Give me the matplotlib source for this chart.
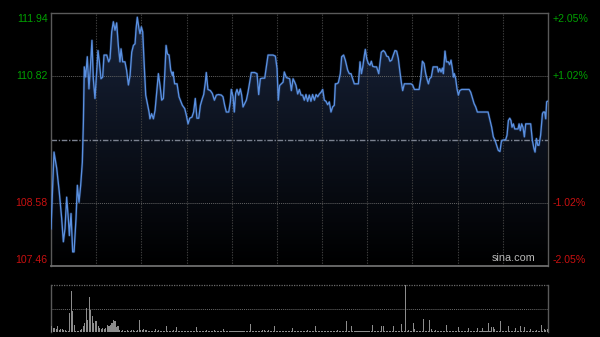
import numpy as np
import matplotlib
matplotlib.use("Agg")
import matplotlib.pyplot as plt
from matplotlib.path import Path
from matplotlib.patches import PathPatch
import matplotlib.transforms as mtransforms

# ---------------- data ----------------
minutes = [0, 2.0, 3.8, 5.5, 7.1, 8.2, 9.3, 10.4, 11.5, 12.2, 13.3, 14.4, 15.3, 16.6, 17.5, 18.6, 19.7,
           20.8, 21.5, 22.1, 23.0, 24.1, 25.2, 26.1, 27.2, 28.1, 29.2, 30.3, 31.2, 32.1, 33.2, 34.3,
           35.2, 37.0, 38.3, 39.2, 40.3, 41.4, 42.5, 43.6, 44.7, 45.8, 46.5, 47.6, 49.1, 50.2, 51.4,
           52.5, 53.6, 54.7, 55.8, 56.5, 57.3, 58.4, 59.1, 60.0, 60.9, 61.8, 62.9, 64.2, 65.1, 65.7,
           66.8, 68.0, 69.1, 70.2, 71.3, 72.4, 73.5, 74.6, 75.5, 76.4, 77.3, 78.4, 79.5, 80.6,
           81.0, 82.1, 83.7, 85.0, 85.9, 87.2, 88.8, 89.9, 91.0, 92.1, 93.6, 94.7, 95.8, 96.9, 98.1,
           99.2, 100.5, 101.4, 102.5, 103.1, 104.2, 105.8, 107.1, 108.5, 109.8, 111.3, 113.1, 114.2,
           115.3, 116.4, 118.0, 119.1, 119.7, 120.9, 121.7, 122.6, 123.5, 124.6, 125.7, 126.6, 127.5,
           128.6, 129.7, 130.8, 131.9, 133.0, 135.2, 136.8, 137.9, 139.0, 140.3, 141.9, 143.0, 144.1,
           147.4, 149.0, 150.1, 150.9, 151.8, 152.9, 154.1, 154.9, 156.3, 157.4, 158.5, 159.6, 160.7,
           161.8, 162.7, 163.8, 164.9, 166.0, 167.1, 168.2, 169.3, 170.4, 171.5, 172.6, 173.7, 174.9,
           176.0, 177.1, 178.2, 179.3, 180.4, 181.5, 182.6, 183.7, 184.8, 185.9, 187.0, 188.1, 188.8,
           189.7, 190.8, 192.1, 193.0, 194.3, 195.4, 197.0, 198.1, 199.2, 200.3, 201.4, 202.5, 204.1,
           205.2, 206.1, 207.0, 208.1, 208.7, 209.6, 210.7, 211.8, 212.7, 213.6, 214.9, 216.2, 217.6,
           218.5, 219.3, 220.7, 221.8, 222.9, 224.0, 225.1, 226.2, 227.3, 228.4, 229.5, 230.6, 231.7,
           232.6, 233.5, 234.6, 235.7, 239.0, 240.1, 241.3, 244.4, 245.5, 246.6, 247.7, 248.8, 249.9,
           250.6, 251.4, 252.5, 253.7, 255.4, 256.5, 257.2, 258.1, 259.0, 259.9, 260.5, 261.2, 261.6,
           262.5, 263.8, 264.7, 265.6, 266.5, 267.2, 267.8, 268.7, 269.6, 270.5, 271.4, 272.7, 277.6,
           278.7, 279.8, 280.9, 282.0, 283.1, 290.2, 291.3, 292.6, 293.7, 294.8, 295.9, 297.0, 298.1,
           299.0, 299.7, 301.9, 302.8, 303.7, 304.6, 305.4, 306.1, 307.0, 307.9, 309.0, 310.1, 310.8,
           311.6, 312.5, 313.4, 314.3, 315.2, 318.5, 319.6, 320.7, 321.4, 322.3, 323.2, 324.0, 325.1,
           326.3, 326.9, 327.8, 328.5, 329.1, 329.6]

prices = [108.12, 109.48, 109.19, 108.77, 108.30, 107.89, 108.12, 108.68, 108.30, 108.00, 108.39, 107.71,
          107.71, 108.30, 108.89, 108.59, 108.89, 109.30, 110.01, 110.99, 110.81, 111.17, 110.60, 110.96,
          111.46, 110.78, 110.43, 110.90, 111.28, 111.08, 110.78, 110.81, 111.20, 111.20, 111.08, 111.14,
          111.61, 111.79, 111.64, 111.77, 111.37, 111.08, 111.31, 111.08, 111.08, 110.93, 110.67, 110.84,
          111.25, 111.37, 111.40, 111.67, 111.87, 111.67, 111.58, 111.70, 111.61, 111.08, 110.49, 110.31,
          110.19, 110.07, 110.16, 110.07, 110.22, 110.54, 110.87, 110.66, 110.40, 110.43, 110.84, 111.37,
          111.22, 111.20, 110.93, 110.84,
          110.90, 110.69, 110.69, 110.46, 110.40, 110.31, 110.25, 110.13, 109.98, 110.08, 110.10, 110.19,
          110.43, 110.08, 110.08, 110.31, 110.43, 110.50, 110.72, 110.89, 110.59, 110.57, 110.52, 110.40,
          110.49, 110.50, 110.49, 110.46, 110.31, 110.19, 110.19, 110.37, 110.59, 110.46, 110.19, 110.52,
          110.59, 110.49, 110.60, 110.49, 110.28, 110.34, 110.40, 110.54, 110.72, 110.89, 110.89, 110.87,
          110.50, 110.78, 110.79, 110.79, 110.99, 111.20, 111.20, 111.18, 110.96, 110.40, 110.66, 110.69,
          110.72, 110.90, 110.80, 110.79, 110.78, 110.57, 110.78, 110.72,
          110.66, 110.51, 110.59, 110.49, 110.49, 110.40, 110.50, 110.38, 110.49, 110.38, 110.50, 110.40,
          110.50, 110.46, 110.51, 110.54, 110.59, 110.40, 110.38, 110.32, 110.37, 110.19, 110.28, 110.31,
          110.69, 110.69, 110.71, 110.87, 111.17, 111.20, 111.11, 110.93, 110.87, 110.87, 110.78, 110.69,
          110.69, 110.69, 111.08, 110.87, 110.99, 111.20, 111.30, 111.14, 111.05, 111.02, 111.09, 111.00,
          110.99, 110.99, 110.87, 111.08, 111.25, 111.28, 111.25, 111.18, 111.17, 111.09, 111.11, 111.20,
          111.28, 111.27, 111.14, 110.90, 110.72, 110.57, 110.69, 110.69, 110.69, 110.67, 110.59,
          110.59, 110.78, 111.09, 111.05, 110.87, 110.75, 110.69, 110.78, 110.81, 110.99, 110.99, 110.99,
          110.90, 110.96, 110.90, 110.97, 110.87, 111.14, 111.27, 111.08, 111.08, 111.03, 111.11, 110.96,
          110.81, 110.87, 110.78, 110.60, 110.49, 110.57, 110.59, 110.59, 110.54, 110.44, 110.34, 110.28,
          110.19, 110.19, 110.07, 109.92, 109.75, 109.69, 109.60, 109.51, 109.49, 109.66, 109.69, 109.70,
          109.78, 110.04, 110.08, 110.04, 109.92, 109.98, 109.89, 109.89, 109.89, 109.98, 109.86, 109.98,
          109.92, 109.75, 109.98, 109.98, 109.69, 109.54, 109.48, 109.72, 109.60, 109.60, 109.78, 110.16,
          110.19, 110.19, 110.07, 110.37, 110.38]

volume = [12, 8, 8, 7, 13, 4, 6, 6, 5, 4, 3, 3, 40, 88, 44, 15, 3, 2, 3, 4, 6, 12, 20, 51, 26, 75, 47, 35, 19, 23,
          24, 12, 8, 7, 8, 6, 8, 15, 12, 15, 20, 26, 23, 10, 12, 4, 3, 4, 3, 3, 4, 3, 3, 4, 5, 3, 3, 4, 26, 4,
          5, 6, 5, 4, 3, 3, 3, 2, 3, 7, 3, 4, 3, 3, 2, 3, 12, 3, 2, 3, 3, 4, 3, 10, 3, 2, 3, 3, 3, 2,
          3, 2, 3, 3, 2, 3, 10, 3, 2, 3, 2, 3, 3, 4, 2, 3, 3, 2, 5, 3, 2, 3, 3, 2, 6, 3, 2, 3, 2, 3,
          3, 2, 3, 2, 3, 3, 2, 3, 2, 3, 2, 3, 18, 3, 2, 3, 2, 3, 3, 2, 5, 4, 3, 2, 5, 3, 3, 2, 12, 3,
          3, 2, 3, 3, 2, 3, 2, 3, 3, 2, 8, 3, 2, 3, 3, 2, 3, 2, 3, 2, 4, 3, 2, 3, 3, 12, 3, 2, 3, 3,
          3, 2, 3, 3, 2, 3, 2, 3, 3, 2, 4, 3, 2, 3, 3, 2, 23, 3, 2, 12, 3, 2, 3, 3, 2, 3, 3, 2, 3, 3,
          2, 3, 3, 14, 3, 2, 3, 3, 3, 12, 12, 3, 2, 3, 3, 2, 3, 12, 3, 2, 3, 3, 18, 3, 2, 120, 3, 4, 3, 2,
          20, 6, 3, 2, 3, 3, 3, 28, 3, 2, 3, 26, 6, 3, 3, 4, 3, 2, 3, 3, 3, 2, 15, 3, 2, 3, 3, 2, 3, 3,
          10, 3, 2, 3, 3, 2, 3, 8, 3, 2, 3, 3, 3, 8, 3, 2, 8, 3, 2, 3, 20, 3, 10, 10, 6, 3, 3, 2, 24, 3,
          3, 2, 3, 12, 3, 2, 3, 3, 8, 3, 2, 12, 3, 3, 10, 3, 2, 3, 6, 3, 2, 3, 5, 3, 2, 14, 3, 6, 5, 6]

price_ticks = [111.94, 110.82, 108.58, 107.46]
price_labels = ["111.94", "110.82", "108.58", "107.46"]
pct_labels = ["+2.05%", "+1.02%", "-1.02%", "-2.05%"]
prev_close = 109.70
session_minutes = 330
half_hour_marks = list(range(30, 330, 30))
vol_max = 100

# ---------------- figure ----------------
W, H = 600, 337
fig = plt.figure(figsize=(W / 100, H / 100), dpi=100, facecolor="black")
ax = fig.add_axes([51 / W, 1 - 266 / H, 497 / W, (266 - 13.3) / H])
vax = fig.add_axes([51 / W, 1 - 332 / H, 497 / W, 47 / H])

for a in (ax, vax):
    a.set_facecolor("black")
    a.set_xticks([])
    a.set_yticks([])

ymin, ymax = price_ticks[-1], price_ticks[0]
ax.set_xlim(0, session_minutes)
ax.set_ylim(ymin, ymax)

# gradient fill under the line
grad = np.linspace(1, 0, 256).reshape(-1, 1)
top = np.array([24, 35, 58]) / 255.0
rgb = grad[..., None] * top[None, None, :]
im = ax.imshow(rgb, extent=[0, session_minutes, ymin, ymax], aspect="auto",
               origin="upper", zorder=1, interpolation="bilinear")
verts = [(minutes[0], ymin)] + list(zip(minutes, prices)) + [(minutes[-1], ymin), (minutes[0], ymin)]
clip = PathPatch(Path(verts), transform=ax.transData, facecolor="none", edgecolor="none")
ax.add_patch(clip)
im.set_clip_path(clip)

# grid
for xm in half_hour_marks:
    ax.axvline(xm, color="#3e3e3e", lw=0.8, ls=(0, (1.2, 1.2)), zorder=2)
for lv in price_ticks[1:3]:
    ax.axhline(lv, color="#626262", lw=0.7, ls=(0, (1, 1)), zorder=2)
ax.axhline(prev_close, color="#7c8290", lw=1.0, ls=(0, (4, 1.2, 1, 1.2)), zorder=2)

# price line
ax.plot(minutes, prices, color="#3f6fc0", lw=1.9, alpha=0.25, zorder=3, solid_joinstyle="round")
ax.plot(minutes, prices, color="#5a90e0", lw=0.95, zorder=4, solid_joinstyle="round")

for s in ax.spines.values():
    s.set_color("#5a5a5a")
    s.set_linewidth(1.0)
ax.spines["bottom"].set_color("#6e6e6e")
ax.spines["bottom"].set_linewidth(1.3)

# labels
lt = mtransforms.blended_transform_factory(ax.transAxes, ax.transData)
colors = ["#00a000", "#00a000", "#c81010", "#c81010"]
vas = ["top", "center", "center", "bottom"]
offs = [-0.02, 0, 0, 0.02]
for v, lab, pl, c, va, o in zip(price_ticks, price_labels, pct_labels, colors, vas, offs):
    ax.text(-0.007, v + o, lab, transform=lt, ha="right", va=va, color=c,
            fontsize=7.6, family="Liberation Sans")
    ax.text(1.01, v + o, pl, transform=lt, ha="left", va=va, color=c,
            fontsize=7.6, family="Liberation Sans")

ax.text(0.975, 0.012, "sina.com", transform=ax.transAxes, ha="right", va="bottom",
        color="#b8b8b8", fontsize=7.8, family="Liberation Sans", zorder=5)

# volume
vax.set_xlim(0, session_minutes)
vax.set_ylim(0, vol_max)
vax.bar(np.arange(len(volume)) + 0.5, volume, width=0.7, color="#8c8c8c", linewidth=0, zorder=3)
vax.axhline(vol_max * 0.5, color="#6a6a6a", lw=0.7, ls=(0, (1, 1)), zorder=2)
vax.spines["top"].set_visible(False)
vax.spines["bottom"].set_visible(False)
vax.axhline(vol_max, color="#6a6a6a", lw=0.9, ls=(0, (1, 1)), zorder=2, clip_on=False)
for k in ("left", "right"):
    vax.spines[k].set_color("#5a5a5a")
    vax.spines[k].set_linewidth(1.0)

fig.savefig("out.png", dpi=100, facecolor="black")
